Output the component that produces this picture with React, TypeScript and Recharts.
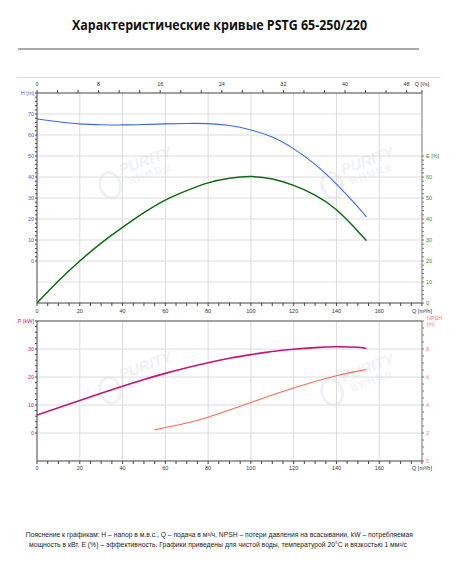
import { CartesianGrid, ComposedChart, Line, XAxis, YAxis } from 'recharts'

// flow points, m³/h
const flowQ = [0, 10, 20, 30, 40, 50, 60, 70, 80, 90, 100, 110, 120, 130, 140, 150, 154]
const headH = [67.6, 66.3, 65.3, 64.9, 64.8, 65.0, 65.3, 65.5, 65.4, 64.5, 62.4, 59.0, 53.4, 46, 36.6, 25.8, 21]
const effE = [0, 10.5, 20, 28.5, 36, 43, 49, 53.5, 57.2, 59.4, 60.2, 59.0, 56.0, 51.4, 44.4, 34.2, 29.7]
const powerP = [6.4, 9, 11.6, 14.2, 16.7, 19.1, 21.3, 23.3, 25.1, 26.7, 28.0, 29.1, 29.9, 30.5, 30.8, 30.6, 30.2]
const npshQ = [55, 60, 70, 80, 90, 100, 110, 120, 130, 140, 150, 154]
const npshR = [2.22, 2.39, 2.72, 3.13, 3.65, 4.18, 4.71, 5.21, 5.68, 6.09, 6.42, 6.52]

// tick labels
const qMajor = [0, 20, 40, 60, 80, 100, 120, 140, 160]
const lsMajor = [0, 8, 16, 24, 32, 40, 48]
const hMajor = [0, 10, 20, 30, 40, 50, 60, 70]
const eMajor = [0, 10, 20, 30, 40, 50, 60]
const pMajor = [0, 10, 20, 30]
const nMajor = [0, 2, 4, 6, 8]

const steps = (from: number, to: number, step: number) => {
  const out: number[] = []
  for (let i = 0; from + i * step <= to + 1e-9; i++) out.push(+(from + i * step).toFixed(4))
  return out
}

const qTicks = [...steps(0, 175, 5), 180]
const lsTicks = [...steps(0, 48, 8 / 3), 50]
const hTicks = steps(0, 80, 2)
const eTicks = steps(0, 70, 2)
const pTicks = steps(0, 40, 2)
const nTicks = steps(0, 10, 0.5)

const headData = flowQ.map((q, i) => ({ q, v: headH[i] }))
const effData = flowQ.map((q, i) => ({ q, v: effE[i] }))
const powerData = flowQ.map((q, i) => ({ q, v: powerP[i] }))
const npshData = npshQ.map((q, i) => ({ q, v: npshR[i] }))

const FONT = 'Liberation Sans, Arial, sans-serif'
const TICK_FS = 5.5

const fmt = (majors: number[], top?: number, topLabel?: string) => (v: number) => {
  if (top !== undefined && Math.abs(v - top) < 1e-6) return topLabel ?? ''
  return majors.some((m) => Math.abs(m - v) < 1e-6) ? String(Math.round(v)) : ''
}

const tickStyle = (fill: string) => ({ fontSize: TICK_FS, fill, fontFamily: FONT })

function NpshTick(props: any) {
  const { x, y, payload } = props
  const v = payload.value as number
  if (Math.abs(v - 10) < 1e-6) {
    return (
      <text x={x} y={y} fontSize={TICK_FS} fill="#f08272" fontFamily={FONT}>
        <tspan x={x + 1} dy={-1.5}>NPSH</tspan>
        <tspan x={x + 1} dy={6.5}>[m]</tspan>
      </text>
    )
  }
  const label = nMajor.includes(v) ? String(v) : ''
  return (
    <text x={x} y={y} dy="0.35em" textAnchor="start" fontSize={TICK_FS} fill="#f08272" fontFamily={FONT}>
      {label}
    </text>
  )
}

function Watermark({ x, y }: { x: number; y: number }) {
  return (
    <g transform={`translate(${x},${y}) rotate(-20)`} opacity={0.5}>
      <ellipse cx={-34} cy={6} rx={10} ry={13} fill="none" stroke="#dfe5ef" strokeWidth={3} />
      <text x={-20} y={0} fontSize={15} fontWeight={700} fontStyle="italic" fill="#dfe5ef" fontFamily={FONT}>
        PURITY
      </text>
      <text x={-16} y={12} fontSize={9} fill="#dfe5ef" fontFamily="Noto Sans CJK SC">
        普轩特泵业
      </text>
    </g>
  )
}

export default function App() {
  return (
    <div style={{ position: 'absolute', left: 0, top: 0, width: 459, height: 567, background: '#fff', overflow: 'hidden' }}>
      <svg width={459} height={567} style={{ position: 'absolute', left: 0, top: 0 }}>
        <text
          x={219.5}
          y={29.5}
          textAnchor="middle"
          fontSize={13.5}
          fontWeight={700}
          fill="#111"
          fontFamily="Open Sans, sans-serif"
          textLength={295}
          lengthAdjust="spacingAndGlyphs"
        >
          Характеристические кривые PSTG 65-250/220
        </text>
        <line x1={18} x2={419} y1={49} y2={49} stroke="#555" strokeWidth={1} />
        <line x1={17} x2={441} y1={77.5} y2={77.5} stroke="#ddd" strokeWidth={1} />
        <Watermark x={140} y={168} />
        <Watermark x={362} y={168} />
        <Watermark x={140} y={373} />
        <Watermark x={362} y={375} />
        <text x={219.3} y={537} textAnchor="middle" fontSize={6.6} fill="#222" fontFamily={FONT} textLength={387} lengthAdjust="spacingAndGlyphs">
          Пояснение к графикам: H – напор в м.в.с., Q – подача в м³/ч, NPSH – потери давления на всасывании,  kW – потребляемая
        </text>
        <text x={218} y={546.5} textAnchor="middle" fontSize={6.6} fill="#222" fontFamily={FONT} textLength={378} lengthAdjust="spacingAndGlyphs">
          мощность в кВт. E (%) – эффективность.  Графики приведены для чистой воды, температурой 20°C и вязкостью 1 мм²/с
        </text>
      </svg>

      <div style={{ position: 'absolute', left: 0, top: 0 }}>
        <ComposedChart width={459} height={320} data={headData} margin={{ top: 77, right: 7, bottom: 7, left: 17 }}>
          <CartesianGrid
            xAxisId="q"
            yAxisId="h"
            stroke="#dcdcdc"
            verticalValues={[20, 40, 60, 80, 100, 120, 140, 160]}
            horizontalValues={[-10, 0, 10, 20, 30, 40, 50, 60, 70]}
          />
          <XAxis
            xAxisId="q"
            type="number"
            dataKey="q"
            domain={[0, 180]}
            allowDataOverflow
            ticks={qTicks}
            interval={0}
            height={10}
            tickSize={3}
            tickFormatter={() => ''}
            stroke="#444"
            tick={tickStyle('#333')}
          />
          <XAxis
            xAxisId="ls"
            orientation="top"
            type="number"
            dataKey="q"
            domain={[0, 50]}
            allowDataOverflow
            ticks={lsTicks}
            interval={0}
            height={16}
            tickSize={3}
            tickMargin={4}
            tickFormatter={fmt(lsMajor, 50, 'Q\u00a0[l/s]')}
            stroke="#444"
            tick={tickStyle('#333')}
          />
          <YAxis
            yAxisId="h"
            type="number"
            domain={[-20, 80]}
            allowDataOverflow
            ticks={hTicks}
            interval={0}
            width={20}
            tickSize={2}
            tickMargin={1}
            tickFormatter={fmt(hMajor, 80, 'H\u00a0[m]')}
            stroke="#444"
            tick={tickStyle('#3f63cf')}
          />
          <YAxis
            yAxisId="e"
            orientation="right"
            type="number"
            domain={[0, 100]}
            allowDataOverflow
            ticks={eTicks}
            interval={0}
            width={30}
            tickSize={2}
            tickMargin={2}
            tickFormatter={fmt(eMajor, 70, 'E\u00a0[%]')}
            stroke="#777"
            tick={tickStyle('#3d8a2f')}
          />
          <Line
            xAxisId="q"
            yAxisId="h"
            data={headData}
            dataKey="v"
            type="natural"
            stroke="#3b68e3"
            strokeWidth={1.1}
            dot={false}
            isAnimationActive={false}
          />
          <Line
            xAxisId="q"
            yAxisId="e"
            data={effData}
            dataKey="v"
            type="natural"
            stroke="#0d6a12"
            strokeWidth={1.5}
            dot={false}
            isAnimationActive={false}
          />
        </ComposedChart>
      </div>

      <div style={{ position: 'absolute', left: 0, top: 300 }}>
        <ComposedChart width={459} height={180} data={powerData} margin={{ top: 5, right: 7, bottom: 5, left: 17 }}>
          <CartesianGrid
            xAxisId="q"
            yAxisId="p"
            stroke="#dcdcdc"
            verticalValues={[20, 40, 60, 80, 100, 120, 140, 160]}
            horizontalValues={[0, 10, 20, 30]}
          />
          <XAxis
            xAxisId="q"
            type="number"
            dataKey="q"
            domain={[0, 180]}
            allowDataOverflow
            ticks={qTicks}
            interval={0}
            height={14}
            tickSize={3}
            tickMargin={2}
            tickFormatter={fmt(qMajor, 180, 'Q\u00a0[m³/h]')}
            stroke="#444"
            tick={tickStyle('#333')}
          />
          <XAxis
            xAxisId="qt"
            orientation="top"
            type="number"
            dataKey="q"
            domain={[0, 180]}
            allowDataOverflow
            ticks={[...qMajor, 180]}
            interval={0}
            height={16}
            tickSize={0}
            tickMargin={8}
            tickFormatter={fmt(qMajor, 180, 'Q\u00a0[m³/h]')}
            stroke="#444"
            tick={tickStyle('#333')}
          />
          <YAxis
            yAxisId="p"
            type="number"
            domain={[-10, 40]}
            allowDataOverflow
            ticks={pTicks}
            interval={0}
            width={20}
            tickSize={2}
            tickMargin={1}
            tickFormatter={fmt(pMajor, 40, 'P\u00a0[kW]')}
            stroke="#444"
            tick={tickStyle('#c2187d')}
          />
          <YAxis
            yAxisId="n"
            orientation="right"
            type="number"
            domain={[0, 10]}
            allowDataOverflow
            ticks={nTicks}
            interval={0}
            width={30}
            tickSize={2}
            tickMargin={2}
            stroke="#777"
            tick={<NpshTick />}
          />
          <Line
            xAxisId="q"
            yAxisId="p"
            data={powerData}
            dataKey="v"
            type="natural"
            stroke="#c2157c"
            strokeWidth={1.6}
            dot={false}
            isAnimationActive={false}
          />
          <Line
            xAxisId="q"
            yAxisId="n"
            data={npshData}
            dataKey="v"
            type="natural"
            stroke="#f46c5c"
            strokeWidth={1.1}
            dot={false}
            isAnimationActive={false}
          />
        </ComposedChart>
      </div>
    </div>
  )
}
